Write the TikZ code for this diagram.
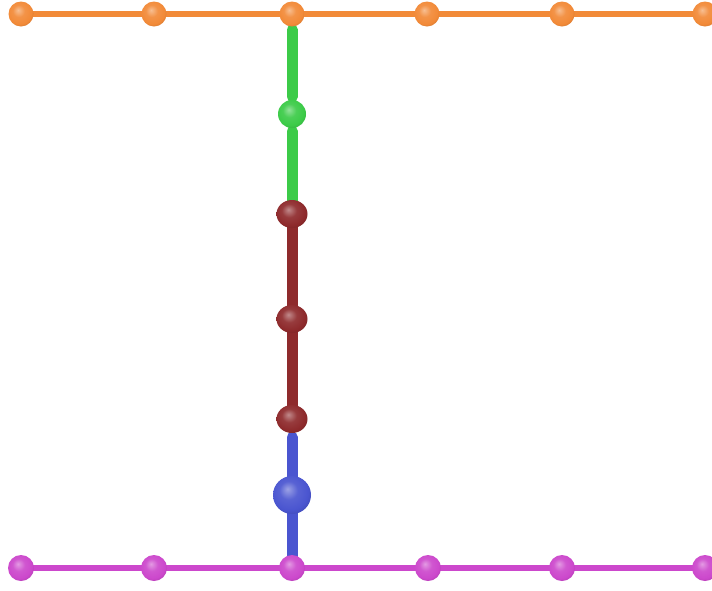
\documentclass[tikz,border=0pt]{standalone}
\usetikzlibrary{shapes.geometric}
\pgfdeclarelayer{bg}
\pgfsetlayers{bg,main}
\makeatletter
\pgfdeclareradialshading[tikz@ball]{softball}{\pgfqpoint{-6bp}{8bp}}{%
  color(0bp)=(tikz@ball!55!white);
  color(12bp)=(tikz@ball!92!white);
  color(24bp)=(tikz@ball);
  color(34bp)=(tikz@ball!82!black);
  color(50bp)=(tikz@ball!70!black)}
\makeatother
\begin{document}
\begin{tikzpicture}[x=1pt,y=-1pt,
  atom/.style={circle,inner sep=0pt},
  orangeatom/.style={atom,minimum size=25pt,ball color=orangeC,shading=softball},
  magatom/.style={atom,minimum size=26pt,ball color=magC,shading=softball},
  greenatom/.style={atom,minimum size=28pt,ball color=greenC,shading=softball},
  redatom/.style={ellipse,inner sep=0pt,minimum width=31pt,minimum height=28pt,ball color=redC,shading=softball},
  blueatom/.style={atom,minimum size=38pt,ball color=blueC,shading=softball},
  thinbond/.style={line width=5.5pt,line cap=round},
  thickbond/.style={line width=11pt,line cap=round}]
\definecolor{orangeC}{HTML}{F28A38}
\definecolor{magC}{HTML}{CC48CC}
\definecolor{greenC}{HTML}{3CCB48}
\definecolor{redC}{HTML}{8E2A2C}
\definecolor{blueC}{HTML}{4A55D0}
\path[use as bounding box] (0,0) rectangle (712,590);
\clip (0,0) rectangle (712,590);
% atoms
\node[orangeatom] (o1) at (21,14) {};
\node[orangeatom] (o2) at (154,14) {};
\node[orangeatom] (o3) at (292,14) {};
\node[orangeatom] (o4) at (427,14) {};
\node[orangeatom] (o5) at (562,14) {};
\node[orangeatom] (o6) at (705,14) {};
\node[magatom] (m1) at (21,568) {};
\node[magatom] (m2) at (154,568) {};
\node[magatom] (m3) at (292,568) {};
\node[magatom] (m4) at (428,568) {};
\node[magatom] (m5) at (562,568) {};
\node[magatom] (m6) at (705,568) {};
\node[greenatom] (g) at (292,114) {};
\node[redatom] (r1) at (292,214) {};
\node[redatom] (r2) at (292,319) {};
\node[redatom] (r3) at (292,419) {};
\node[blueatom] (b) at (292,495) {};
% bonds
\begin{pgfonlayer}{bg}
\draw[thinbond,orangeC] (o1.center) -- (o2.center) -- (o3.center) -- (o4.center) -- (o5.center) -- (o6.center);
\draw[thinbond,magC] (m1.center) -- (m2.center) -- (m3.center) -- (m4.center) -- (m5.center) -- (m6.center);
\draw[thickbond,greenC,shorten <=3pt,shorten >=3pt] (o3) -- (g);
\draw[thickbond,greenC,shorten <=3pt] (g) -- (r1.center);
\draw[thickbond,redC] (r1.center) -- (r2.center) -- (r3.center);
\draw[thickbond,blueC,shorten <=4pt] (r3) -- (b.center) -- (m3.center);
\end{pgfonlayer}
\end{tikzpicture}
\end{document}
